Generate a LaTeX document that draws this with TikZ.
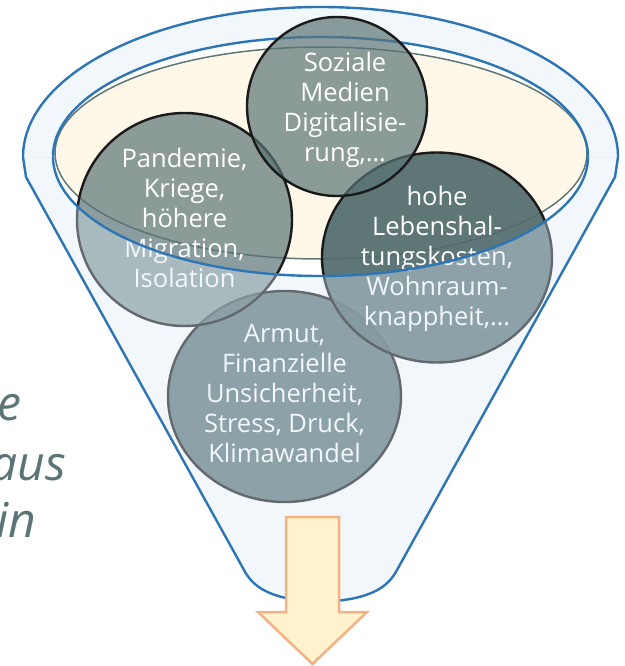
\documentclass[tikz,border=0pt]{standalone}
\usepackage{fontspec}
\setmainfont{Open Sans}
\usetikzlibrary{shapes.geometric}
\definecolor{funnelblue}{HTML}{2E75B6}
\definecolor{ringfill}{HTML}{F2F7FC}
\definecolor{frontfill}{HTML}{DCEAF7}
\definecolor{creamfill}{HTML}{FFF8E8}
\definecolor{creamline}{HTML}{5F7877}
\definecolor{ballA}{HTML}{5A7475}
\definecolor{ballB}{HTML}{516B6D}
\definecolor{ballline}{HTML}{1A1A1A}
\definecolor{arrowfill}{HTML}{FFF2CC}
\definecolor{arrowline}{HTML}{F4B183}
\definecolor{sidetext}{HTML}{5B7577}
\begin{document}
\begin{tikzpicture}[x=1bp,y=1bp,
  ball/.style={ellipse, inner sep=0pt, draw=ballline, line width=2.4bp},
  ballone/.style={ball, fill=ballA, fill opacity=0.7},
  balltwo/.style={ball, fill=ballB, fill opacity=0.92},
  balltext/.style={align=center, text=white, inner sep=0pt, font=\fontsize{25.5bp}{30bp}\selectfont},
  sidelabel/.style={anchor=base east, inner sep=0pt, text=sidetext, font=\fontsize{48bp}{58bp}\selectfont\itshape},
  blueline/.style={draw=funnelblue, line width=2.4bp}
]
\useasboundingbox (0,0) rectangle (625,-666);
\fill[white] (0,0) rectangle (625,-666);
% back ring of the funnel
\begin{scope}
\clip (0,0) rectangle (625,-157);
\fill[ringfill, even odd rule] (320.5,-157) ellipse[x radius=297.5, y radius=150] (320.5,-156.5) ellipse[x radius=267.5, y radius=119.5];
\end{scope}
% cream surface
\draw[creamline, fill=creamfill, line width=1.5bp] (321,-153) ellipse[x radius=266, y radius=106];
% back half of the inner rim
\draw[blueline] (53,-156.5) arc[start angle=180, end angle=0, x radius=267.5, y radius=119.5];
% balls
\node[balltwo, minimum width=233bp, minimum height=211bp] (armut) at (284.5,-396.5) {};
\node[balltext] (armutt) at (284.5,-393.5) {Armut,\\Finanzielle\\Unsicherheit,\\Stress, Druck,\\Klimawandel};
\node[balltwo, minimum width=230bp, minimum height=210bp] (hohe) at (437,-257.5) {};
\node[balltext] (hohet) at (437,-259) {hohe\\Lebenshal-\\tungskosten,\\Wohnraum-\\knappheit,…};
\node[ballone, minimum width=215bp, minimum height=213bp] (pand) at (184.5,-219.5) {};
\node[balltext] (pandt) at (184.5,-218) {Pandemie,\\Kriege,\\höhere\\Migration,\\Isolation};
\node[ballone, minimum width=180bp, minimum height=179bp] (soz) at (337,-106.5) {};
\node[balltext] (sozt) at (345,-109.5) {Soziale\\Medien\\Digitalisie-\\rung,…};
% front body of the funnel
\fill[frontfill, fill opacity=0.38] (23,-157) -- (26,-177) -- (244,-570) .. controls (253,-587) and (270,-600) .. (320.5,-602) .. controls (371,-600) and (388,-587) .. (397,-570) -- (615,-177) -- (618,-157) -- (588,-156.5) arc[start angle=0, end angle=-180, x radius=267.5, y radius=119.5] -- cycle;
\draw[blueline, line join=round] (23,-157) arc[start angle=180, end angle=0, x radius=297.5, y radius=150] -- (615,-177) -- (397,-570) .. controls (388,-587) and (371,-600) .. (320.5,-602) .. controls (270,-600) and (253,-587) .. (244,-570) -- (26,-177) -- cycle;
\draw[blueline] (588,-156.5) arc[start angle=0, end angle=-180, x radius=267.5, y radius=119.5];
% arrow
\draw[draw=arrowline, fill=arrowfill, line width=2.5bp, line join=miter] (286,-517) -- (339,-517) -- (339,-612) -- (367,-612) -- (312.5,-664) -- (258,-612) -- (286,-612) -- cycle;
% cut-off side text
\node[sidelabel] (s1) at (22,-420) {e};
\node[sidelabel] (s2) at (66,-480) {aus};
\node[sidelabel] (s3) at (36,-537) {in};
\end{tikzpicture}
\end{document}
